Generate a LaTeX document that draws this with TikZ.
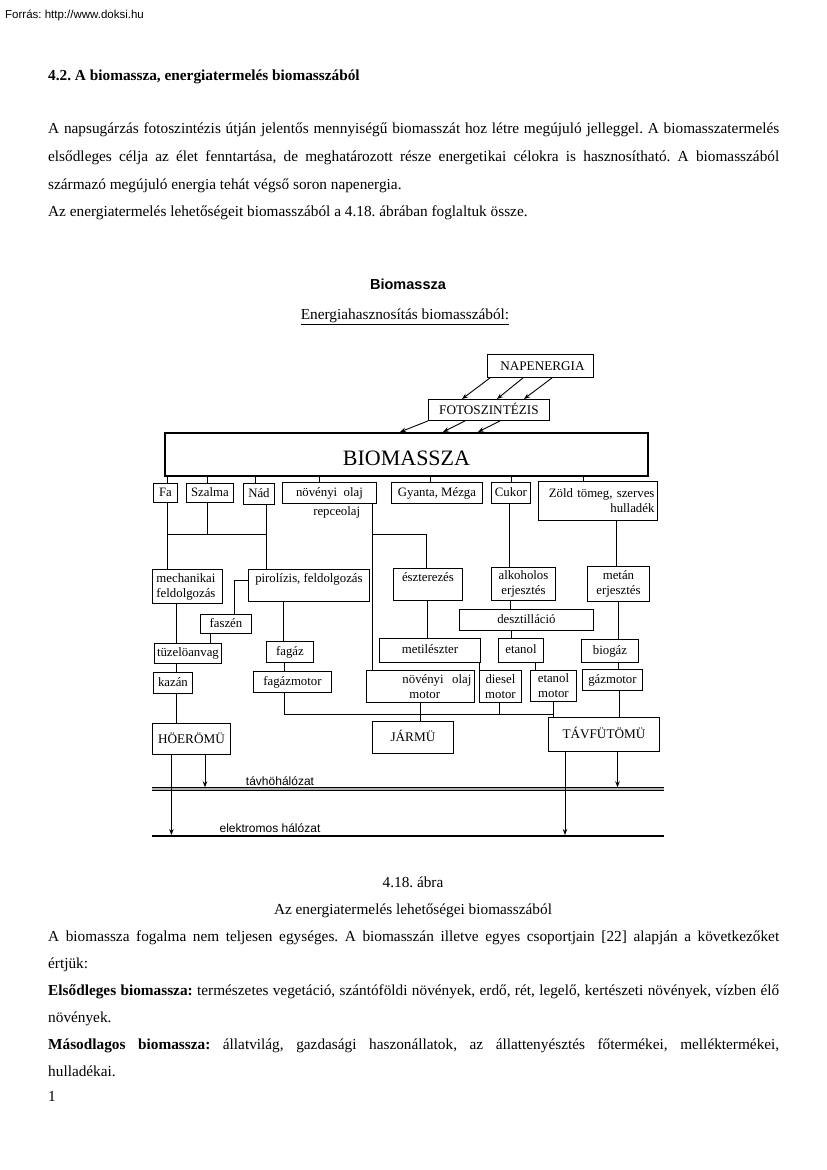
\documentclass[tikz,border=0pt]{standalone}
\usepackage{fontspec}
\setmainfont{Liberation Serif}
\newfontfamily\arialf{Liberation Sans}
\usetikzlibrary{arrows.meta}
\frenchspacing
\begin{document}
\frenchspacing
\begin{tikzpicture}[x=1pt,y=-1pt,
  bxb/.style={draw, line width=0.9pt, inner sep=0pt, anchor=north west, font=\fontsize{12.8}{15}\selectfont},
  bx/.style={bxb, align=center},
  one/.style={bxb, text height=9.5pt, text depth=2.5pt},
  capbx/.style={bxb, font=\fontsize{13.2}{15}\selectfont, text height=10.5pt, text depth=1.5pt},
  ln/.style={line width=0.9pt},
  arr/.style={line width=0.9pt, -{Stealth[length=6pt,width=4.5pt]}},
  body/.style={anchor=base west, inner sep=0pt, font=\fontsize{15.3}{20}\selectfont},
  ctr/.style={anchor=base, inner sep=0pt, font=\fontsize{15.3}{20}\selectfont},
  lbl/.style={inner sep=0pt, font=\arialf\fontsize{12}{14}\selectfont},
  plain/.style={inner sep=0pt, font=\fontsize{12.8}{15}\selectfont}
]
\fill[white] (0,0) rectangle (827,1170);
\useasboundingbox (0,0) rectangle (827,1170);

% ---------- page text (top) ----------
\node[anchor=base west, inner sep=0pt, font=\arialf\fontsize{11.5}{13}\selectfont] (src) at (5,18) {Forrás: http://www.doksi.hu};
\node[body, font=\bfseries\fontsize{15.3}{20}\selectfont] (head) at (48,80) {4.2. A biomassza, energiatermelés biomasszából};
\node[body] (p1) at (48,133.5) {\makebox[731pt][s]{A napsugárzás fotoszintézis útján jelentős mennyiségű biomasszát hoz létre megújuló jelleggel. A biomasszatermelés}};
\node[body] (p2) at (48,161.5) {\makebox[731pt][s]{elsődleges célja az élet fenntartása, de meghatározott része energetikai célokra is hasznosítható. A biomasszából}};
\node[body] (p3) at (48,189.5) {származó megújuló energia tehát végső soron napenergia.};
\node[body] (p4) at (48,216.5) {Az energiatermelés lehetőségeit biomasszából a 4.18. ábrában foglaltuk össze.};

% ---------- diagram titles ----------
\node[inner sep=0pt, font=\arialf\bfseries\fontsize{14.5}{16}\selectfont] (t1) at (408,284) {Biomassza};
\node[inner sep=0pt, font=\fontsize{15.3}{18}\selectfont] (t2) at (405,317) {\underline{Energiahasznosítás biomasszából:}};

% ---------- boxes ----------
\node[capbx, minimum width=106pt, minimum height=23pt] (nap) at (487,354) {\hspace*{4pt}NAPENERGIA};
\node[capbx, minimum width=121pt, minimum height=21pt] (foto) at (428,399) {FOTOSZINTÉZIS};
\node[bxb, line width=2pt, minimum width=483pt, minimum height=43pt, font=\fontsize{22}{24}\selectfont, text height=21.5pt, text depth=0pt] (bio) at (164,432) {BIOMASSZA};

\node[one, minimum width=24pt, minimum height=19pt] (fa) at (153,483) {Fa};
\node[one, minimum width=47pt, minimum height=19pt] (szalma) at (186,483) {Szalma};
\node[one, minimum width=31pt, minimum height=21pt] (nad) at (243,483) {Nád};
\node[one, minimum width=94pt, minimum height=21pt] (olaj) at (282,482) {növényi\ \ olaj};
\node[plain] (repce) at (336.7,512.7) {repceolaj};
\node[one, minimum width=91pt, minimum height=21pt] (gyanta) at (391,482) {Gyanta, Mézga};
\node[one, minimum width=39pt, minimum height=21pt] (cukor) at (491,482) {Cukor};
\node[bx, minimum width=119pt, minimum height=39pt, inner xsep=3pt, text width=113pt, align=right] (zold) at (538,481) {Zöld tömeg, szerves\\hulladék};

\node[bx, minimum width=70pt, minimum height=34pt, inner xsep=4pt, text width=62pt, align=left] (mech) at (152,569) {mechanikai\\feldolgozás};
\node[bx, minimum width=121pt, minimum height=32pt] (pir) at (248,569) {pirolízis, feldolgozás\\ \mbox{}};
\node[one, minimum width=51pt, minimum height=19pt] (faszen) at (200,614) {faszén};
\node[one, minimum width=67pt, minimum height=20pt] (tuz) at (154,643) {tüzelöanvag};
\node[one, minimum width=39pt, minimum height=21pt] (kazan) at (153,672) {kazán};
\node[one, minimum width=47pt, minimum height=21pt] (fagaz) at (266,641) {fagáz};
\node[one, minimum width=78pt, minimum height=21pt] (fagazm) at (253,671) {fagázmotor};

\node[bx, minimum width=69pt, minimum height=32pt] (eszt) at (393,568) {észterezés\\ \mbox{}};
\node[bx, minimum width=64pt, minimum height=33pt] (alk) at (491,567) {alkoholos\\erjesztés};
\node[bx, minimum width=62pt, minimum height=35pt] (metan) at (587,566) {metán\\erjesztés};
\node[one, minimum width=134pt, minimum height=21pt] (deszt) at (459,609) {desztilláció};
\node[one, minimum width=101pt, minimum height=24pt] (metil) at (379,638) {metilészter};
\node[one, minimum width=45pt, minimum height=24pt] (etanol) at (498,638) {etanol};
\node[one, minimum width=57pt, minimum height=23pt] (biogaz) at (581,639) {biogáz};

\node[bx, minimum width=108pt, minimum height=32pt, text width=108pt, align=left] (olajm) at (366,670) {\hspace*{36pt}növényi\ \ olaj\\\hspace*{43pt}motor};
\node[bx, minimum width=42pt, minimum height=32pt] (diesel) at (479,670) {diesel\\motor};
\node[bx, minimum width=46pt, minimum height=31pt] (etanolm) at (530,670) {etanol\\motor};
\node[one, minimum width=60pt, minimum height=21pt] (gazm) at (582,669) {gázmotor};

\node[capbx, minimum width=78pt, minimum height=31pt] (hoe) at (152,723) {HÖERÖMÜ};
\node[capbx, minimum width=81pt, minimum height=32pt] (jarmu) at (372,721) {JÁRMÜ};
\node[capbx, minimum width=111pt, minimum height=34pt] (tav) at (548,717) {TÁVFÜTÖMÜ};

% ---------- arrows sun -> photosynthesis -> biomass ----------
\draw[arr] (nap.south -| 490,0) -- (foto.north -| 462,0);
\draw[arr] (nap.south -| 523,0) -- (foto.north -| 497,0);
\draw[arr] (nap.south -| 552,0) -- (foto.north -| 524,0);
\draw[arr] (foto.south -| 428,0) -- (bio.north -| 400,0);
\draw[arr] (foto.south -| 465,0) -- (bio.north -| 443,0);
\draw[arr] (foto.south -| 500,0) -- (bio.north -| 478,0);

% ---------- biomass -> sources ----------
\draw[ln] (bio.south -| 167.5,0) -- (fa.north -| 167.5,0);
\draw[ln] (bio.south -| 207,0) -- (szalma.north -| 207,0);
\draw[ln] (bio.south -| 255,0) -- (nad.north -| 255,0);
\draw[ln] (bio.south -| 319,0) -- (olaj.north -| 319,0);
\draw[ln] (bio.south -| 430,0) -- (gyanta.north -| 430,0);
\draw[ln] (bio.south -| 511,0) -- (cukor.north -| 511,0);
\draw[ln] (bio.south -| 583,0) -- (zold.north -| 583,0);

% ---------- left branch ----------
\coordinate (jS) at (207,534);
\coordinate (jL) at (167.5,534);
\coordinate (jR) at (266,534);
\draw[ln] (fa.south -| 167.5,0) -- (mech.north -| 167.5,0);
\draw[ln] (szalma.south -| jS) -- (jS);
\draw[ln] (jL) -- (jR);
\draw[ln] (nad.south -| 266,0) -- (pir.north -| 266,0);
\draw[ln] (mech.south -| 176.7,0) -- (tuz.north -| 176.7,0);
\draw[ln] (pir.west |- 0,580.7) -| (faszen.north -| 234,0);
\draw[ln] (faszen.south -| 210.7,0) -- (tuz.north -| 210.7,0);
\draw[ln] (tuz.south -| 176.7,0) -- (kazan.north -| 176.7,0);
\draw[ln] (kazan.south -| 176.7,0) -- (hoe.north -| 176.7,0);
\draw[ln] (pir.south -| 283.5,0) -- (fagaz.north -| 283.5,0);
\draw[ln] (fagaz.south -| 284,0) -- (fagazm.north -| 284,0);

% ---------- oil branch ----------
\coordinate (jO) at (372.7,534);
\draw[ln] (olaj.south -| 372.7,0) -- (olajm.north -| 372.7,0);
\draw[ln] (jO) -| (eszt.north -| 426,0);
\draw[ln] (eszt.south -| 427.3,0) -- (metil.north -| 427.3,0);
\draw[ln] (metil.south -| 479,0) -- (diesel.north -| 479,0);

% ---------- sugar / green branches ----------
\draw[ln] (cukor.south -| 509.5,0) -- (alk.north -| 509.5,0);
\draw[ln] (alk.south -| 510,0) -- (deszt.north -| 510,0);
\draw[ln] (deszt.south -| 511,0) -- (etanol.north -| 511,0);
\draw[ln] (etanol.south -| 535,0) -- (etanolm.north -| 535,0);
\draw[ln] (zold.south -| 616,0) -- (metan.north -| 616,0);
\draw[ln] (metan.south -| 618.3,0) -- (biogaz.north -| 618.3,0);
\draw[ln] (biogaz.south -| 618.3,0) -- (gazm.north -| 618.3,0);
\draw[ln] (gazm.south -| 619.3,0) -- (tav.north -| 619.3,0);

% ---------- motors -> users ----------
\coordinate (busR) at (553.3,714);
\draw[ln] (fagazm.south -| 284,0) |- (busR);
\draw[ln] (olajm.south -| 420.7,0) -- (jarmu.north -| 420.7,0);
\draw[ln] (diesel.south -| 499,0) -- (busR -| 499,0);
\draw[ln] (etanolm.south -| 553.3,0) -- (tav.north -| 553.3,0);

% ---------- networks ----------
\coordinate (tvL) at (152,789);
\coordinate (tvR) at (664,789);
\coordinate (elL) at (152,836);
\coordinate (elR) at (664,836);
\draw[line width=0.9pt, double=black!30, double distance=1.6pt] (tvL) -- (tvR);
\draw[line width=1.8pt] (elL) -- (elR);
\node[lbl] (tvlab) at (280,781) {távhöhálózat};
\node[lbl] (ellab) at (270,828) {elektromos hálózat};

\draw[arr, shorten >=1pt] (hoe.south -| 171.4,0) -- (elL -| 171.4,0);
\draw[arr, shorten >=1.7pt] (hoe.south -| 205,0) -- (tvL -| 205,0);
\draw[arr, shorten >=1pt] (tav.south -| 565,0) -- (elL -| 565,0);
\draw[arr, shorten >=1.7pt] (tav.south -| 617.5,0) -- (tvL -| 617.5,0);

% ---------- page text (bottom) ----------
\node[ctr] (c1) at (413,887.5) {4.18. ábra};
\node[ctr] (c2) at (413,914.5) {Az energiatermelés lehetőségei biomasszából};
\node[body] (b1) at (48,941.5) {\makebox[731pt][s]{A biomassza fogalma nem teljesen egységes. A biomasszán illetve egyes csoportjain [22] alapján a következőket}};
\node[body] (b2) at (48,968.5) {értjük:};
\node[body] (b3) at (48,995.5) {\makebox[731pt][s]{\textbf{Elsődleges biomassza:} természetes vegetáció, szántóföldi növények, erdő, rét, legelő, kertészeti növények, vízben élő}};
\node[body] (b4) at (48,1022.5) {növények.};
\node[body] (b5) at (48,1049.5) {\makebox[731pt][s]{\textbf{Másodlagos biomassza:} állatvilág, gazdasági haszonállatok, az állattenyésztés főtermékei, melléktermékei,}};
\node[body] (b6) at (48,1076.5) {hulladékai.};
\node[body] (pg) at (48,1101.5) {1};
\end{tikzpicture}
\end{document}
